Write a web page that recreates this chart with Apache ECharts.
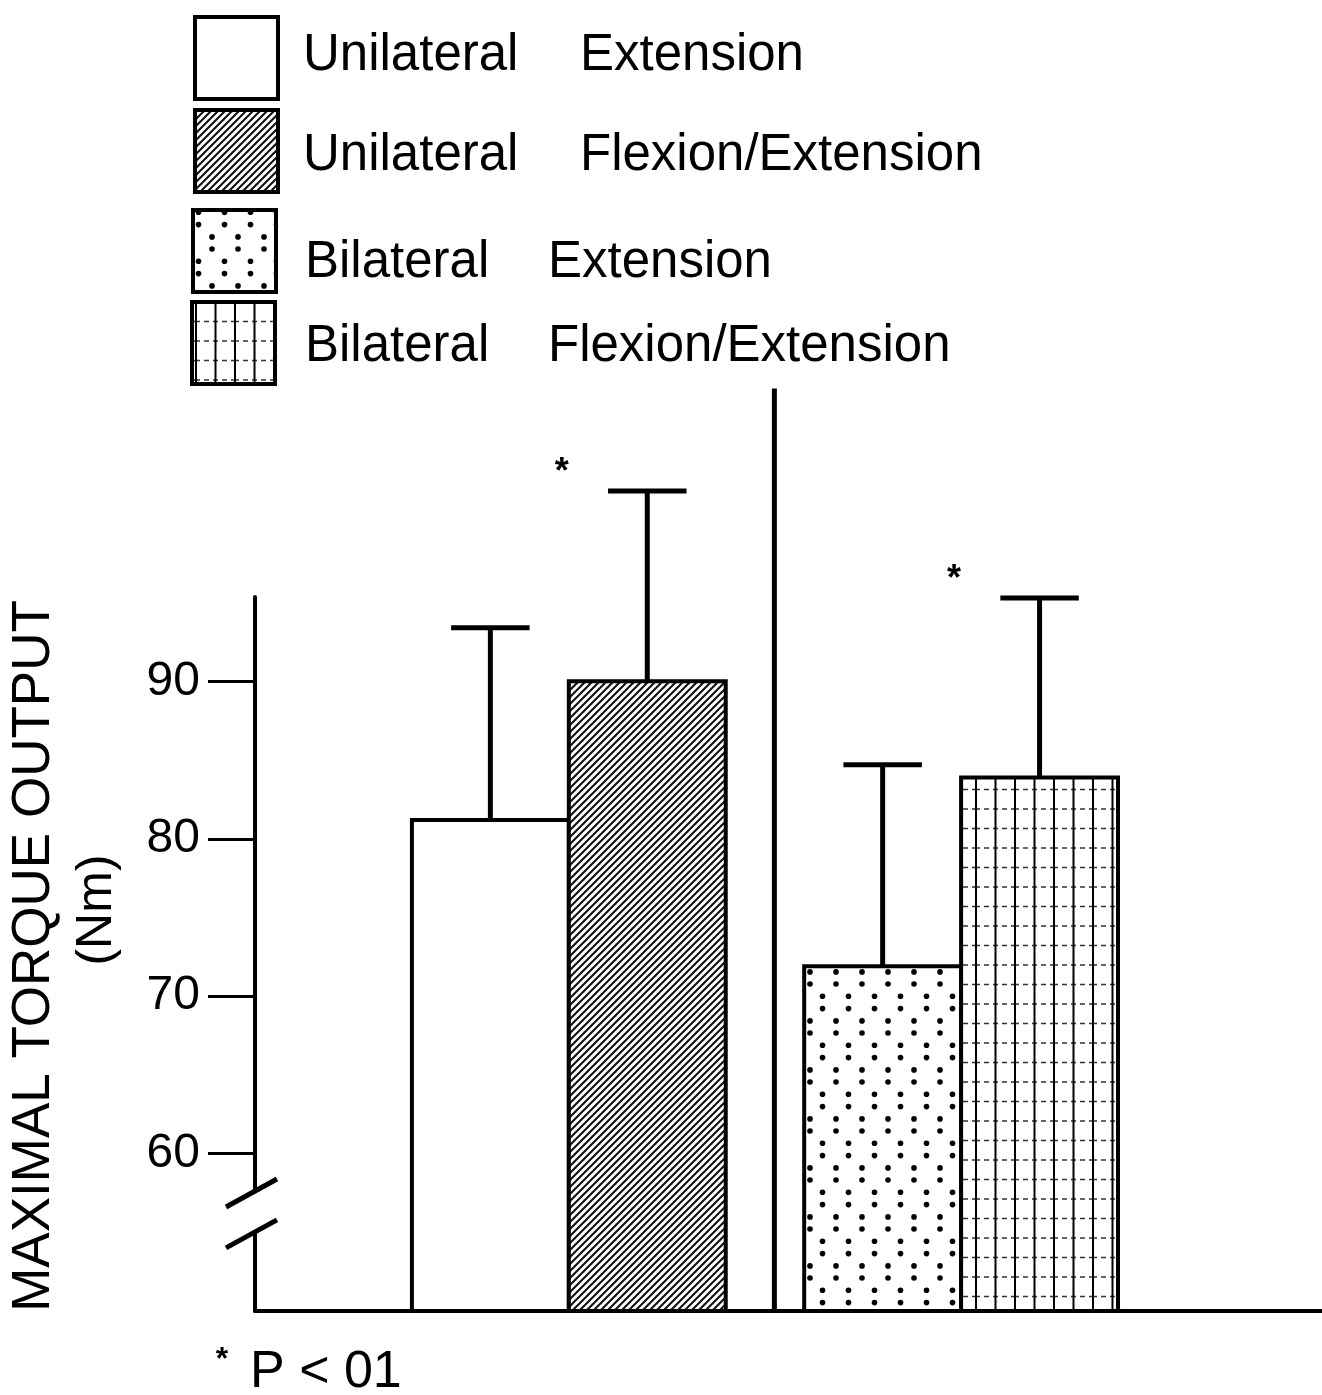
<!DOCTYPE html>
<html>
<head>
<meta charset="utf-8">
<title>Maximal torque output</title>
<script src="https://cdn.jsdelivr.net/npm/echarts@6/dist/echarts.min.js"></script>
<style>
  html, body { margin: 0; padding: 0; background: #fff; }
  #chart { width: 1322px; height: 1395px; }
</style>
</head>
<body>
<div id="chart"></div>
<script>
// data
const sides = ['Unilateral', 'Unilateral', 'Bilateral', 'Bilateral'];
const movements = ['Extension', 'Flexion/Extension', 'Extension', 'Flexion/Extension'];
const meanTorque = [81.2, 90.0, 71.9, 83.9];
const sdTorque = [12.2, 12.1, 12.8, 11.4];
const significant = [false, true, false, true];
const yTicks = [60, 70, 80, 90];
const yTitle = 'MAXIMAL TORQUE OUTPUT';
const yUnit = '(Nm)';
const footnote = 'P < 01';

// layout
const fontFamily = "'Liberation Sans', Arial, Helvetica, sans-serif";
const yMin = 50;
const yMax = 95.36;
const dividerX = 3.31;
const dividerTop = 108.6;
const capHalf = 0.25;
const breakValues = [57.56, 54.96];

// x position of bar i, in bar widths from the y axis
const barX = (i) => 1.5 + Math.floor(i / 2) * 2.5 + (i % 2);

function makeTile(w, h, draw) {
  const c = document.createElement('canvas');
  c.width = w;
  c.height = h;
  const ctx = c.getContext('2d');
  ctx.fillStyle = '#fff';
  ctx.fillRect(0, 0, w, h);
  draw(ctx);
  return { image: c, repeat: 'repeat' };
}

const fills = [
  '#fff',
  // diagonal hatch
  makeTile(7, 7, (ctx) => {
    ctx.strokeStyle = '#111';
    ctx.lineWidth = 2.1;
    ctx.beginPath();
    ctx.moveTo(-1, 8); ctx.lineTo(8, -1);
    ctx.moveTo(-1, 1); ctx.lineTo(1, -1);
    ctx.moveTo(6, 8); ctx.lineTo(8, 6);
    ctx.stroke();
  }),
  // staggered dots
  makeTile(26, 49, (ctx) => {
    ctx.fillStyle = '#000';
    [[4, 4], [16.5, 16.3], [16.5, 28.6], [4, 40.9]].forEach(([x, y]) => {
      ctx.beginPath();
      ctx.arc(x, y, 2.8, 0, Math.PI * 2);
      ctx.fill();
    });
  }),
  // vertical lines with faint dashed horizontals
  makeTile(39, 39, (ctx) => {
    ctx.strokeStyle = '#333';
    ctx.lineWidth = 1.3;
    ctx.setLineDash([5, 4]);
    ctx.beginPath();
    ctx.moveTo(0, 9.5); ctx.lineTo(39, 9.5);
    ctx.moveTo(0, 29); ctx.lineTo(39, 29);
    ctx.stroke();
    ctx.setLineDash([]);
    ctx.strokeStyle = '#000';
    ctx.lineWidth = 2;
    ctx.beginPath();
    ctx.moveTo(1, 0); ctx.lineTo(1, 39);
    ctx.moveTo(20.5, 0); ctx.lineTo(20.5, 39);
    ctx.stroke();
  })
];

const barData = meanTorque.map((m, i) => [barX(i), m, sdTorque[i]]);

function renderBar(params, api) {
  const i = params.dataIndex;
  const x = api.value(0);
  const mean = api.value(1);
  const sd = api.value(2);
  const tl = api.coord([x - 0.5, mean]);
  const br = api.coord([x + 0.5, yMin]);
  const top = api.coord([x, mean + sd]);
  const capL = api.coord([x - capHalf, mean + sd]);
  const capR = api.coord([x + capHalf, mean + sd]);
  const children = [
    {
      type: 'rect',
      shape: { x: tl[0], y: tl[1], width: br[0] - tl[0], height: br[1] - tl[1] },
      style: { fill: fills[i], stroke: '#000', lineWidth: 4 }
    },
    {
      type: 'line',
      shape: { x1: top[0], y1: tl[1], x2: top[0], y2: top[1] },
      style: { stroke: '#000', lineWidth: 5 }
    },
    {
      type: 'line',
      shape: { x1: capL[0], y1: capL[1], x2: capR[0], y2: capR[1] },
      style: { stroke: '#000', lineWidth: 5 }
    }
  ];
  if (significant[i]) {
    children.push({
      type: 'text',
      x: tl[0] - 7,
      y: top[1] - 18,
      style: {
        text: '*', fill: '#000', fontSize: 36, fontWeight: 'bold',
        fontFamily, align: 'center', verticalAlign: 'middle'
      }
    });
  }
  return { type: 'group', children };
}

function renderDivider(params, api) {
  const x = api.value(0);
  const a = api.coord([x, yMin]);
  const b = api.coord([x, dividerTop]);
  return {
    type: 'line',
    shape: { x1: a[0], y1: a[1], x2: b[0], y2: b[1] },
    style: { stroke: '#000', lineWidth: 5 }
  };
}

const chart = echarts.init(document.getElementById('chart'));

const option = {
  backgroundColor: '#fff',
  animation: false,
  grid: { left: 255, right: 0, top: 597, bottom: 84 },
  xAxis: {
    type: 'value',
    min: 0,
    max: 6.8,
    axisLine: { onZero: false, lineStyle: { color: '#000', width: 4 } },
    axisTick: { show: false },
    axisLabel: { show: false },
    splitLine: { show: false }
  },
  yAxis: {
    type: 'value',
    min: yMin,
    max: yMax,
    axisLine: { show: true, onZero: false, lineStyle: { color: '#000', width: 4 } },
    axisTick: { show: true, customValues: yTicks, length: 47, lineStyle: { color: '#000', width: 3 } },
    axisLabel: { customValues: yTicks, margin: 55, fontSize: 48, color: '#000', fontFamily },
    splitLine: { show: false }
  },
  series: [
    {
      name: 'Torque',
      type: 'custom',
      renderItem: renderBar,
      data: barData,
      clip: false,
      z: 3
    },
    {
      name: 'Divider',
      type: 'custom',
      renderItem: renderDivider,
      data: [[dividerX]],
      clip: false,
      z: 2
    }
  ]
};

chart.setOption(option);

// legend, titles, axis break marks
const legendTops = [15, 108, 208, 300];
const legendBoxX = [193, 193, 191, 190];
const legendTextY = [56, 156, 263, 347];
const sideX = [303, 303, 305, 305];
const moveX = [580, 580, 548, 548];

const graphics = [];
sides.forEach((s, i) => {
  graphics.push({
    type: 'rect',
    shape: { x: legendBoxX[i] + 2, y: legendTops[i] + 2, width: 83, height: 82 },
    style: { fill: fills[i], stroke: '#000', lineWidth: 4 }
  });
  graphics.push({
    type: 'text', x: sideX[i], y: legendTextY[i],
    style: { text: s, fill: '#000', fontSize: 51, fontFamily, verticalAlign: 'middle' }
  });
  graphics.push({
    type: 'text', x: moveX[i], y: legendTextY[i],
    style: { text: movements[i], fill: '#000', fontSize: 51, fontFamily, verticalAlign: 'middle' }
  });
});

graphics.push({
  type: 'text', x: 34, y: 956, rotation: Math.PI / 2,
  style: { text: yTitle, fill: '#000', fontSize: 53, fontFamily, align: 'center', verticalAlign: 'middle' }
});
graphics.push({
  type: 'text', x: 97, y: 910, rotation: Math.PI / 2,
  style: { text: yUnit, fill: '#000', fontSize: 50, fontFamily, align: 'center', verticalAlign: 'middle' }
});
graphics.push({
  type: 'text', x: 222, y: 1360,
  style: { text: '*', fill: '#000', fontSize: 32, fontWeight: 'bold', fontFamily, align: 'center', verticalAlign: 'middle' }
});
graphics.push({
  type: 'text', x: 250, y: 1373,
  style: { text: footnote, fill: '#000', fontSize: 52, fontFamily, verticalAlign: 'middle' }
});

// axis break: gap in the y axis plus two slashes
const p1 = chart.convertToPixel({ gridIndex: 0 }, [0, breakValues[0]]);
const p2 = chart.convertToPixel({ gridIndex: 0 }, [0, breakValues[1]]);
graphics.push({
  type: 'rect',
  shape: { x: p1[0] - 6, y: p1[1], width: 12, height: p2[1] - p1[1] },
  style: { fill: '#fff' },
  z: 10
});
[p1, p2].forEach((p) => {
  graphics.push({
    type: 'line',
    shape: { x1: p[0] - 29, y1: p[1] + 15, x2: p[0] + 22, y2: p[1] - 13 },
    style: { stroke: '#000', lineWidth: 5 },
    z: 11
  });
});

chart.setOption({ graphic: graphics });

window.addEventListener('resize', () => chart.resize());
</script>
</body>
</html>
